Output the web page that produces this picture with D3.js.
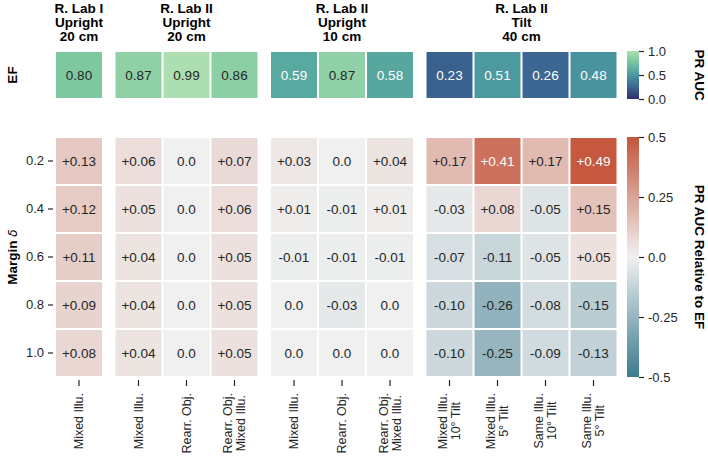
<!DOCTYPE html>
<html>
<head>
<meta charset="utf-8">
<script src="https://cdn.jsdelivr.net/npm/d3@7"></script>
<style>
  body { margin: 0; background: #fff; }
  svg { font-family: "Liberation Sans", Arial, sans-serif; }
</style>
</head>
<body>
<div id="chart"></div>
<script>
// column labels (two lines where needed)
const columns = [
    ["Mixed Illu."],
    ["Mixed Illu."],
    ["Rearr. Obj."],
    ["Rearr. Obj.", "Mixed Illu."],
    ["Mixed Illu."],
    ["Rearr. Obj."],
    ["Rearr. Obj.", "Mixed Illu."],
    ["Mixed Illu.", "10° Tilt"],
    ["Mixed Illu.", "5° Tilt"],
    ["Same Illu.", "10° Tilt"],
    ["Same Illu.", "5° Tilt"]
];
// which setting each column belongs to
const colGroup = [0, 1, 1, 1, 2, 2, 2, 3, 3, 3, 3];
const groupTitles = [
    ["R. Lab I", "Upright", "20 cm"],
    ["R. Lab II", "Upright", "20 cm"],
    ["R. Lab II", "Upright", "10 cm"],
    ["R. Lab II", "Tilt", "40 cm"]
];

// EF baseline PR AUC
const efValues = [0.80, 0.87, 0.99, 0.86, 0.59, 0.87, 0.58, 0.23, 0.51, 0.26, 0.48];

// PR AUC relative to EF, one row per margin
const margins = ["0.2", "0.4", "0.6", "0.8", "1.0"];
const diff02 = [0.13, 0.06, 0.0, 0.07, 0.03, 0.0, 0.04, 0.17, 0.41, 0.17, 0.49];
const diff04 = [0.12, 0.05, 0.0, 0.06, 0.01, -0.01, 0.01, -0.03, 0.08, -0.05, 0.15];
const diff06 = [0.11, 0.04, 0.0, 0.05, -0.01, -0.01, -0.01, -0.07, -0.11, -0.05, 0.05];
const diff08 = [0.09, 0.04, 0.0, 0.05, 0.0, -0.03, 0.0, -0.10, -0.26, -0.08, -0.15];
const diff10 = [0.08, 0.04, 0.0, 0.05, 0.0, 0.0, 0.0, -0.10, -0.25, -0.09, -0.13];
const diffRows = [diff02, diff04, diff06, diff08, diff10];

const efTicks = [0.0, 0.5, 1.0];
const diffTicks = [-0.5, -0.25, 0.0, 0.25, 0.5];

const width = 708;
const height = 458;
const groupGap = 11.5;
const textColor = "#262626";
const cellFs = 13.5;   // numbers in cells
const tickFs = 13;     // axis tick labels
const colFs = 12.5;    // rotated column labels
const titleFs = 13.5;  // bold titles

// colour maps
const efColor = d3.scaleLinear()
    .domain([0, 0.25, 0.5, 0.6, 0.8, 1.0])
    .range(["#2d2f6d", "#3b6591", "#4a97a0", "#5aab9f", "#7ec8a0", "#afdfb2"])
    .clamp(true);
const diffColor = d3.scaleLinear()
    .domain([-0.5, 0, 0.5])
    .range(["#3b7a8e", "#f0f0f0", "#c4553a"])
    .clamp(true);

const svg = d3.select("#chart").append("svg")
    .attr("width", width)
    .attr("height", height);

// scales
const xBand = d3.scaleBand()
    .domain(d3.range(columns.length))
    .range([56, 56 + columns.length * 48 - 2])
    .paddingInner(2 / 48);
const xCol = i => xBand(i) + groupGap * colGroup[i];
const bw = xBand.bandwidth();

const yRow = d3.scaleBand()
    .domain(margins)
    .range([138, 138 + margins.length * 48 - 2])
    .paddingInner(2 / 48);
const efTop = 52;

function fmtDiff(v) {
    if (v === 0) return "0.0";
    return (v > 0 ? "+" : "") + v.toFixed(2);
}

// group headers
groupTitles.forEach((lines, g) => {
    const cols = d3.range(columns.length).filter(i => colGroup[i] === g);
    const cx = (xCol(cols[0]) + xCol(cols[cols.length - 1]) + bw) / 2;
    const t = svg.append("text")
        .attr("text-anchor", "middle")
        .attr("font-weight", "bold")
        .attr("font-size", titleFs)
        .attr("fill", "#000");
    lines.forEach((s, k) => {
        t.append("tspan").attr("x", cx).attr("y", 12.5 + k * 14.2).text(s);
    });
});

// EF row
const efCells = svg.append("g").selectAll("g")
    .data(efValues)
    .join("g");
efCells.append("rect")
    .attr("x", (d, i) => xCol(i))
    .attr("y", efTop)
    .attr("width", bw)
    .attr("height", yRow.bandwidth())
    .attr("fill", d => efColor(d));
efCells.append("text")
    .attr("x", (d, i) => xCol(i) + bw / 2)
    .attr("y", efTop + yRow.bandwidth() / 2)
    .attr("dy", "0.35em")
    .attr("text-anchor", "middle")
    .attr("font-size", cellFs)
    .attr("fill", d => d < 0.7 ? "#fff" : textColor)
    .text(d => d.toFixed(2));

// relative heatmap
const cells = [];
diffRows.forEach((row, r) => row.forEach((v, c) => cells.push({m: margins[r], c: c, v: v})));
const diffCells = svg.append("g").selectAll("g")
    .data(cells)
    .join("g");
diffCells.append("rect")
    .attr("x", d => xCol(d.c))
    .attr("y", d => yRow(d.m))
    .attr("width", bw)
    .attr("height", yRow.bandwidth())
    .attr("fill", d => diffColor(d.v));
diffCells.append("text")
    .attr("x", d => xCol(d.c) + bw / 2)
    .attr("y", d => yRow(d.m) + yRow.bandwidth() / 2)
    .attr("dy", "0.35em")
    .attr("text-anchor", "middle")
    .attr("font-size", cellFs)
    .attr("fill", d => Math.abs(d.v) > 0.3 ? "#fff" : textColor)
    .text(d => fmtDiff(d.v));

// y axis for margins
const yAxis = d3.axisLeft(yRow).tickSize(5).tickPadding(4);
svg.append("g")
    .attr("transform", "translate(53,0)")
    .call(yAxis)
    .call(g => g.select(".domain").remove())
    .call(g => g.selectAll(".tick line").attr("stroke", textColor).attr("stroke-width", 1.2))
    .call(g => g.selectAll(".tick text")
        .attr("font-size", tickFs)
        .attr("fill", textColor)
        .attr("font-family", "Liberation Sans, Arial, sans-serif"));

// x tick marks and rotated column labels
const xLabels = svg.append("g");
columns.forEach((lines, i) => {
    const cx = xCol(i) + bw / 2;
    xLabels.append("line")
        .attr("x1", cx).attr("x2", cx)
        .attr("y1", 380).attr("y2", 386)
        .attr("stroke", textColor)
        .attr("stroke-width", 1.2);
    const lh = 13;
    const g = xLabels.append("g")
        .attr("transform", `translate(${cx},393) rotate(-90)`);
    const texts = lines.map((s, k) => g.append("text")
        .attr("x", 0)
        .attr("y", (k - (lines.length - 1) / 2) * lh)
        .attr("dy", "0.35em")
        .attr("font-size", colFs)
        .attr("fill", textColor)
        .text(s));
    // centre lines of a block against its longest line, block right-aligned
    const lens = texts.map(t => t.node().getComputedTextLength());
    const maxLen = d3.max(lens);
    texts.forEach((t, k) => {
        t.attr("text-anchor", "end").attr("x", -(maxLen - lens[k]) / 2);
    });
});

// row titles
svg.append("text")
    .attr("transform", `translate(17,${efTop + yRow.bandwidth() / 2}) rotate(-90)`)
    .attr("text-anchor", "middle")
    .attr("font-weight", "bold")
    .attr("font-size", titleFs)
    .attr("fill", "#000")
    .text("EF");
const mt = svg.append("text")
    .attr("transform", `translate(17,${(yRow.range()[0] + yRow.range()[1]) / 2}) rotate(-90)`)
    .attr("text-anchor", "middle")
    .attr("font-size", titleFs)
    .attr("fill", "#000");
mt.append("tspan").attr("font-weight", "bold").text("Margin ");
mt.append("tspan").attr("font-style", "italic").attr("font-family", "DejaVu Sans").attr("font-size", 12).text("δ");

// colour bars
function colorBar(scale, domain, y0, y1, ticks, fmt, title, id) {
    const cbX = 627, cbW = 12;
    const grad = svg.append("defs").append("linearGradient")
        .attr("id", id)
        .attr("x1", 0).attr("y1", 1).attr("x2", 0).attr("y2", 0);
    d3.range(0, 1.0001, 0.05).forEach(t => {
        grad.append("stop")
            .attr("offset", t)
            .attr("stop-color", scale(domain[0] + t * (domain[1] - domain[0])));
    });
    svg.append("rect")
        .attr("x", cbX).attr("y", y0)
        .attr("width", cbW).attr("height", y1 - y0)
        .attr("fill", `url(#${id})`);
    const ys = d3.scaleLinear().domain(domain).range([y1, y0]);
    svg.append("g")
        .attr("transform", `translate(${cbX + cbW},0)`)
        .call(d3.axisRight(ys).tickValues(ticks).tickFormat(fmt).tickSize(5).tickPadding(4))
        .call(g => g.select(".domain").remove())
        .call(g => g.selectAll(".tick line").attr("stroke", textColor).attr("stroke-width", 1.2))
        .call(g => g.selectAll(".tick text")
            .attr("font-size", tickFs)
            .attr("fill", textColor)
            .attr("font-family", "Liberation Sans, Arial, sans-serif"));
    svg.append("text")
        .attr("transform", `translate(695,${(y0 + y1) / 2}) rotate(90)`)
        .attr("text-anchor", "middle")
        .attr("font-weight", "bold")
        .attr("font-size", titleFs)
        .attr("fill", "#000")
        .text(title);
}

colorBar(efColor, [0, 1], 51, 99, efTicks, d => d.toFixed(1), "PR AUC", "efGrad");
colorBar(diffColor, [-0.5, 0.5], 137, 377, diffTicks,
    d => (Math.abs(d) === 0.25 ? d.toFixed(2) : d.toFixed(1)), "PR AUC Relative to EF", "diffGrad");
</script>
</body>
</html>
